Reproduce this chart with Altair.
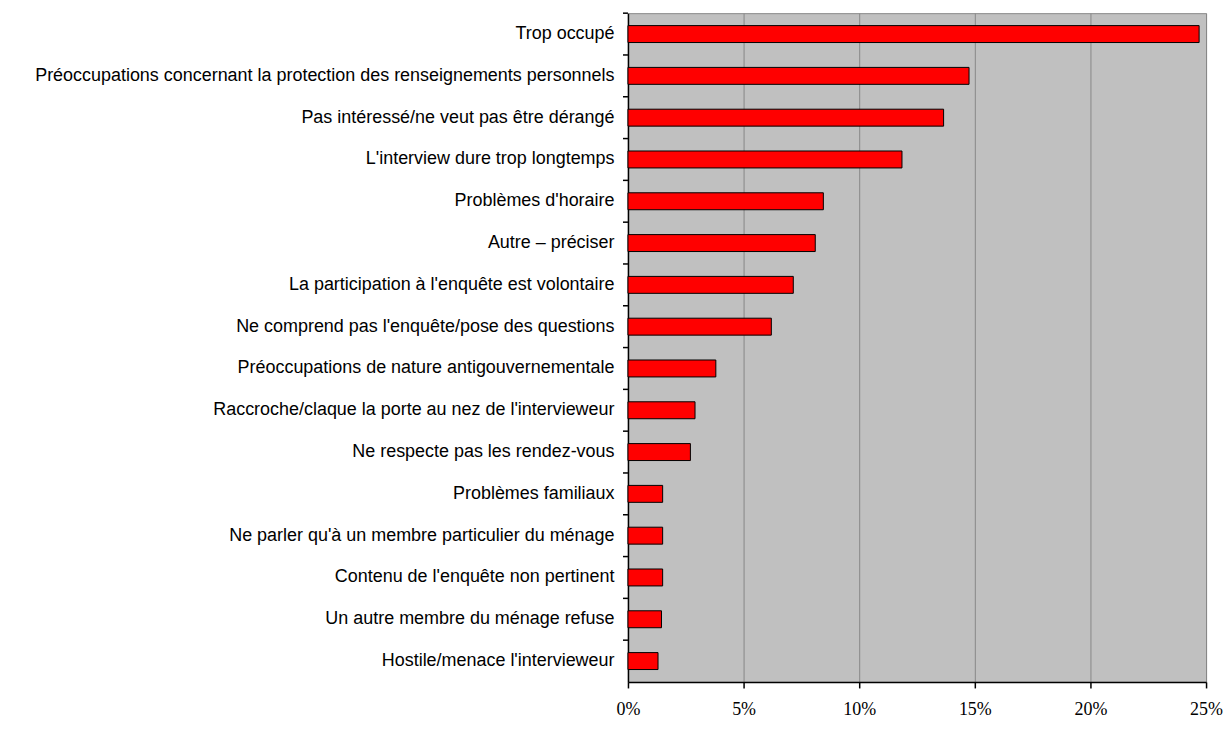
import altair as alt
import pandas as pd

categories = [
    "Trop occupé",
    "Préoccupations concernant la protection des renseignements personnels",
    "Pas intéressé/ne veut pas être dérangé",
    "L'interview dure trop longtemps",
    "Problèmes d'horaire",
    "Autre – préciser",
    "La participation à l'enquête est volontaire",
    "Ne comprend pas l'enquête/pose des questions",
    "Préoccupations de nature antigouvernementale",
    "Raccroche/claque la porte au nez de l'intervieweur",
    "Ne respecte pas les rendez-vous",
    "Problèmes familiaux",
    "Ne parler qu'à un membre particulier du ménage",
    "Contenu de l'enquête non pertinent",
    "Un autre membre du ménage refuse",
    "Hostile/menace l'intervieweur",
]
values = [24.7, 14.75, 13.65, 11.85, 8.45, 8.1, 7.15, 6.2, 3.8, 2.9, 2.7, 1.5, 1.5, 1.5, 1.45, 1.3]
x_ticks = [0, 5, 10, 15, 20, 25]

df = pd.DataFrame({"cat": categories, "val": values})

yscale = alt.Scale(paddingInner=0, paddingOuter=0)

bars = alt.Chart(df).mark_bar(color="#FF0000", stroke="#000000", strokeWidth=1, size=17).encode(
    x=alt.X("val:Q", scale=alt.Scale(domain=[0, 25], nice=False),
            axis=alt.Axis(values=x_ticks, labelExpr="datum.value + '%'", title=None,
                          grid=True, gridColor="#888888", gridWidth=1,
                          domainColor="#000000", domainWidth=1.5,
                          tickColor="#000000", tickSize=6, tickWidth=1.5,
                          labelFont="Liberation Serif", labelFontSize=18, labelColor="#000000",
                          labelPadding=13, labelFlush=False)),
    y=alt.Y("cat:N", sort=categories, scale=yscale,
            axis=alt.Axis(title=None, ticks=False, domainColor="#000000", domainWidth=1.5,
                          labelFont="Liberation Sans", labelFontSize=18, labelColor="#000000",
                          labelPadding=14, labelLimit=1000)),
)

ticks = alt.Chart(df).mark_rule(color="#000000", strokeWidth=1.5).encode(
    x=alt.value(-5),
    x2=alt.value(0),
    y=alt.Y("cat:N", sort=categories, scale=yscale, bandPosition=0),
)

chart = alt.layer(bars, ticks).properties(
    width=580, height=671,
    background="#FFFFFF",
    autosize=alt.AutoSizeParams(type="none"),
    padding={"left": 622, "top": 4, "right": 18, "bottom": 45},
).configure_view(
    fill="#C0C0C0", stroke="#888888", strokeWidth=1
)

chart.save("out.html", embed_options={"renderer": "svg", "actions": False})
